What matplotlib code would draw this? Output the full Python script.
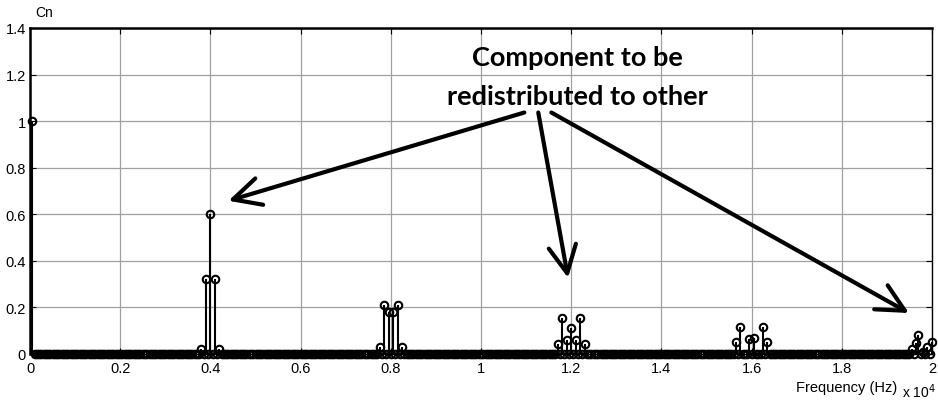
import numpy as np
import matplotlib
matplotlib.use("Agg")
import matplotlib.pyplot as plt

plt.rcParams['font.family'] = ['Liberation Sans', 'DejaVu Sans']

# Harmonic grid: 50 Hz fundamental up to 20 kHz
freq_step = 50
freq_max = 20000

# Non-zero harmonic amplitudes (Hz -> normalised Cn)
peak_freqs = [50,
              3800, 3900, 4000, 4100, 4200,
              7750, 7850, 7950, 8050, 8150, 8250,
              11700, 11800, 11900, 12000, 12100, 12200, 12300,
              15650, 15750, 15950, 16050, 16250, 16350,
              19550, 19650, 19700, 19800, 19900, 20000]
peak_vals = [1.0,
             0.02, 0.32, 0.60, 0.32, 0.02,
             0.03, 0.21, 0.18, 0.18, 0.21, 0.03,
             0.045, 0.155, 0.06, 0.11, 0.06, 0.155, 0.045,
             0.05, 0.117, 0.063, 0.07, 0.117, 0.05,
             0.02, 0.046, 0.082, 0.008, 0.03, 0.05]

x_ticks = [0, 0.2, 0.4, 0.6, 0.8, 1, 1.2, 1.4, 1.6, 1.8, 2]
x_tick_labels = ['0', '0.2', '0.4', '0.6', '0.8', '1', '1.2', '1.4', '1.6', '1.8', '2']
y_ticks = [0, 0.2, 0.4, 0.6, 0.8, 1, 1.2, 1.4]
y_tick_labels = ['0', '0.2', '0.4', '0.6', '0.8', '1', '1.2', '1.4']

freqs = np.arange(freq_step, freq_max + freq_step, freq_step)
cn = np.zeros(len(freqs))
for f, v in zip(peak_freqs, peak_vals):
    cn[np.argmin(np.abs(freqs - f))] = v

fig = plt.figure(figsize=(9.38, 4.02), dpi=100)
ax = fig.add_axes([30 / 938, 1 - 355 / 402, 902 / 938, 326 / 402])

xs = freqs / 1e4
ax.vlines(xs, 0, cn, colors='k', lw=1.5, zorder=3)
ax.plot(xs, cn, 'o', ms=5.4, mfc='none', mec='k', mew=1.5, zorder=4, clip_on=False)

ax.set_xlim(0, 2)
ax.set_ylim(0, 1.4)
ax.set_xticks(x_ticks)
ax.set_xticklabels(x_tick_labels)
ax.set_yticks(y_ticks)
ax.set_yticklabels(y_tick_labels)
ax.grid(True, color='#a0a0a0', lw=0.9)
ax.set_axisbelow(True)
ax.tick_params(direction='in', length=4, width=0.8, labelsize=10.5, colors='k',
               top=True, right=True)
ax.tick_params(axis='x', pad=5)
ax.tick_params(axis='y', pad=3)
for side in ['top', 'left']:
    ax.spines[side].set_linewidth(1.8)
for side in ['bottom', 'right']:
    ax.spines[side].set_linewidth(1.0)

fig.text(35 / 938, 1 - 13 / 402, 'Cn', fontsize=10, ha='left', va='center')
fig.text(847 / 938, 1 - 388 / 402, 'Frequency (Hz)', fontsize=10.5, ha='center', va='center')
fig.text(919 / 938, 1 - 392 / 402, r'x 10$^{4}$', fontsize=10, ha='center', va='center')

# Callout with three arrows to the sideband clusters
ax.text(1.213, 1.19, 'Component to be\nredistributed to other', fontsize=19.5,
        fontweight='bold', family=['Lato', 'DejaVu Sans'], ha='center', va='center',
        linespacing=1.75, zorder=6)
arrow_kw = dict(arrowstyle='->,head_length=0.9,head_width=0.45', lw=3.0,
                color='k', mutation_scale=22, shrinkA=0, shrinkB=0)
for start, tip in [((1.096, 1.037), (0.44, 0.658)),
                   ((1.127, 1.037), (1.193, 0.327)),
                   ((1.156, 1.037), (1.949, 0.176))]:
    ax.annotate('', xy=tip, xytext=start, arrowprops=arrow_kw, zorder=6)

fig.savefig('out.png', dpi=100)
